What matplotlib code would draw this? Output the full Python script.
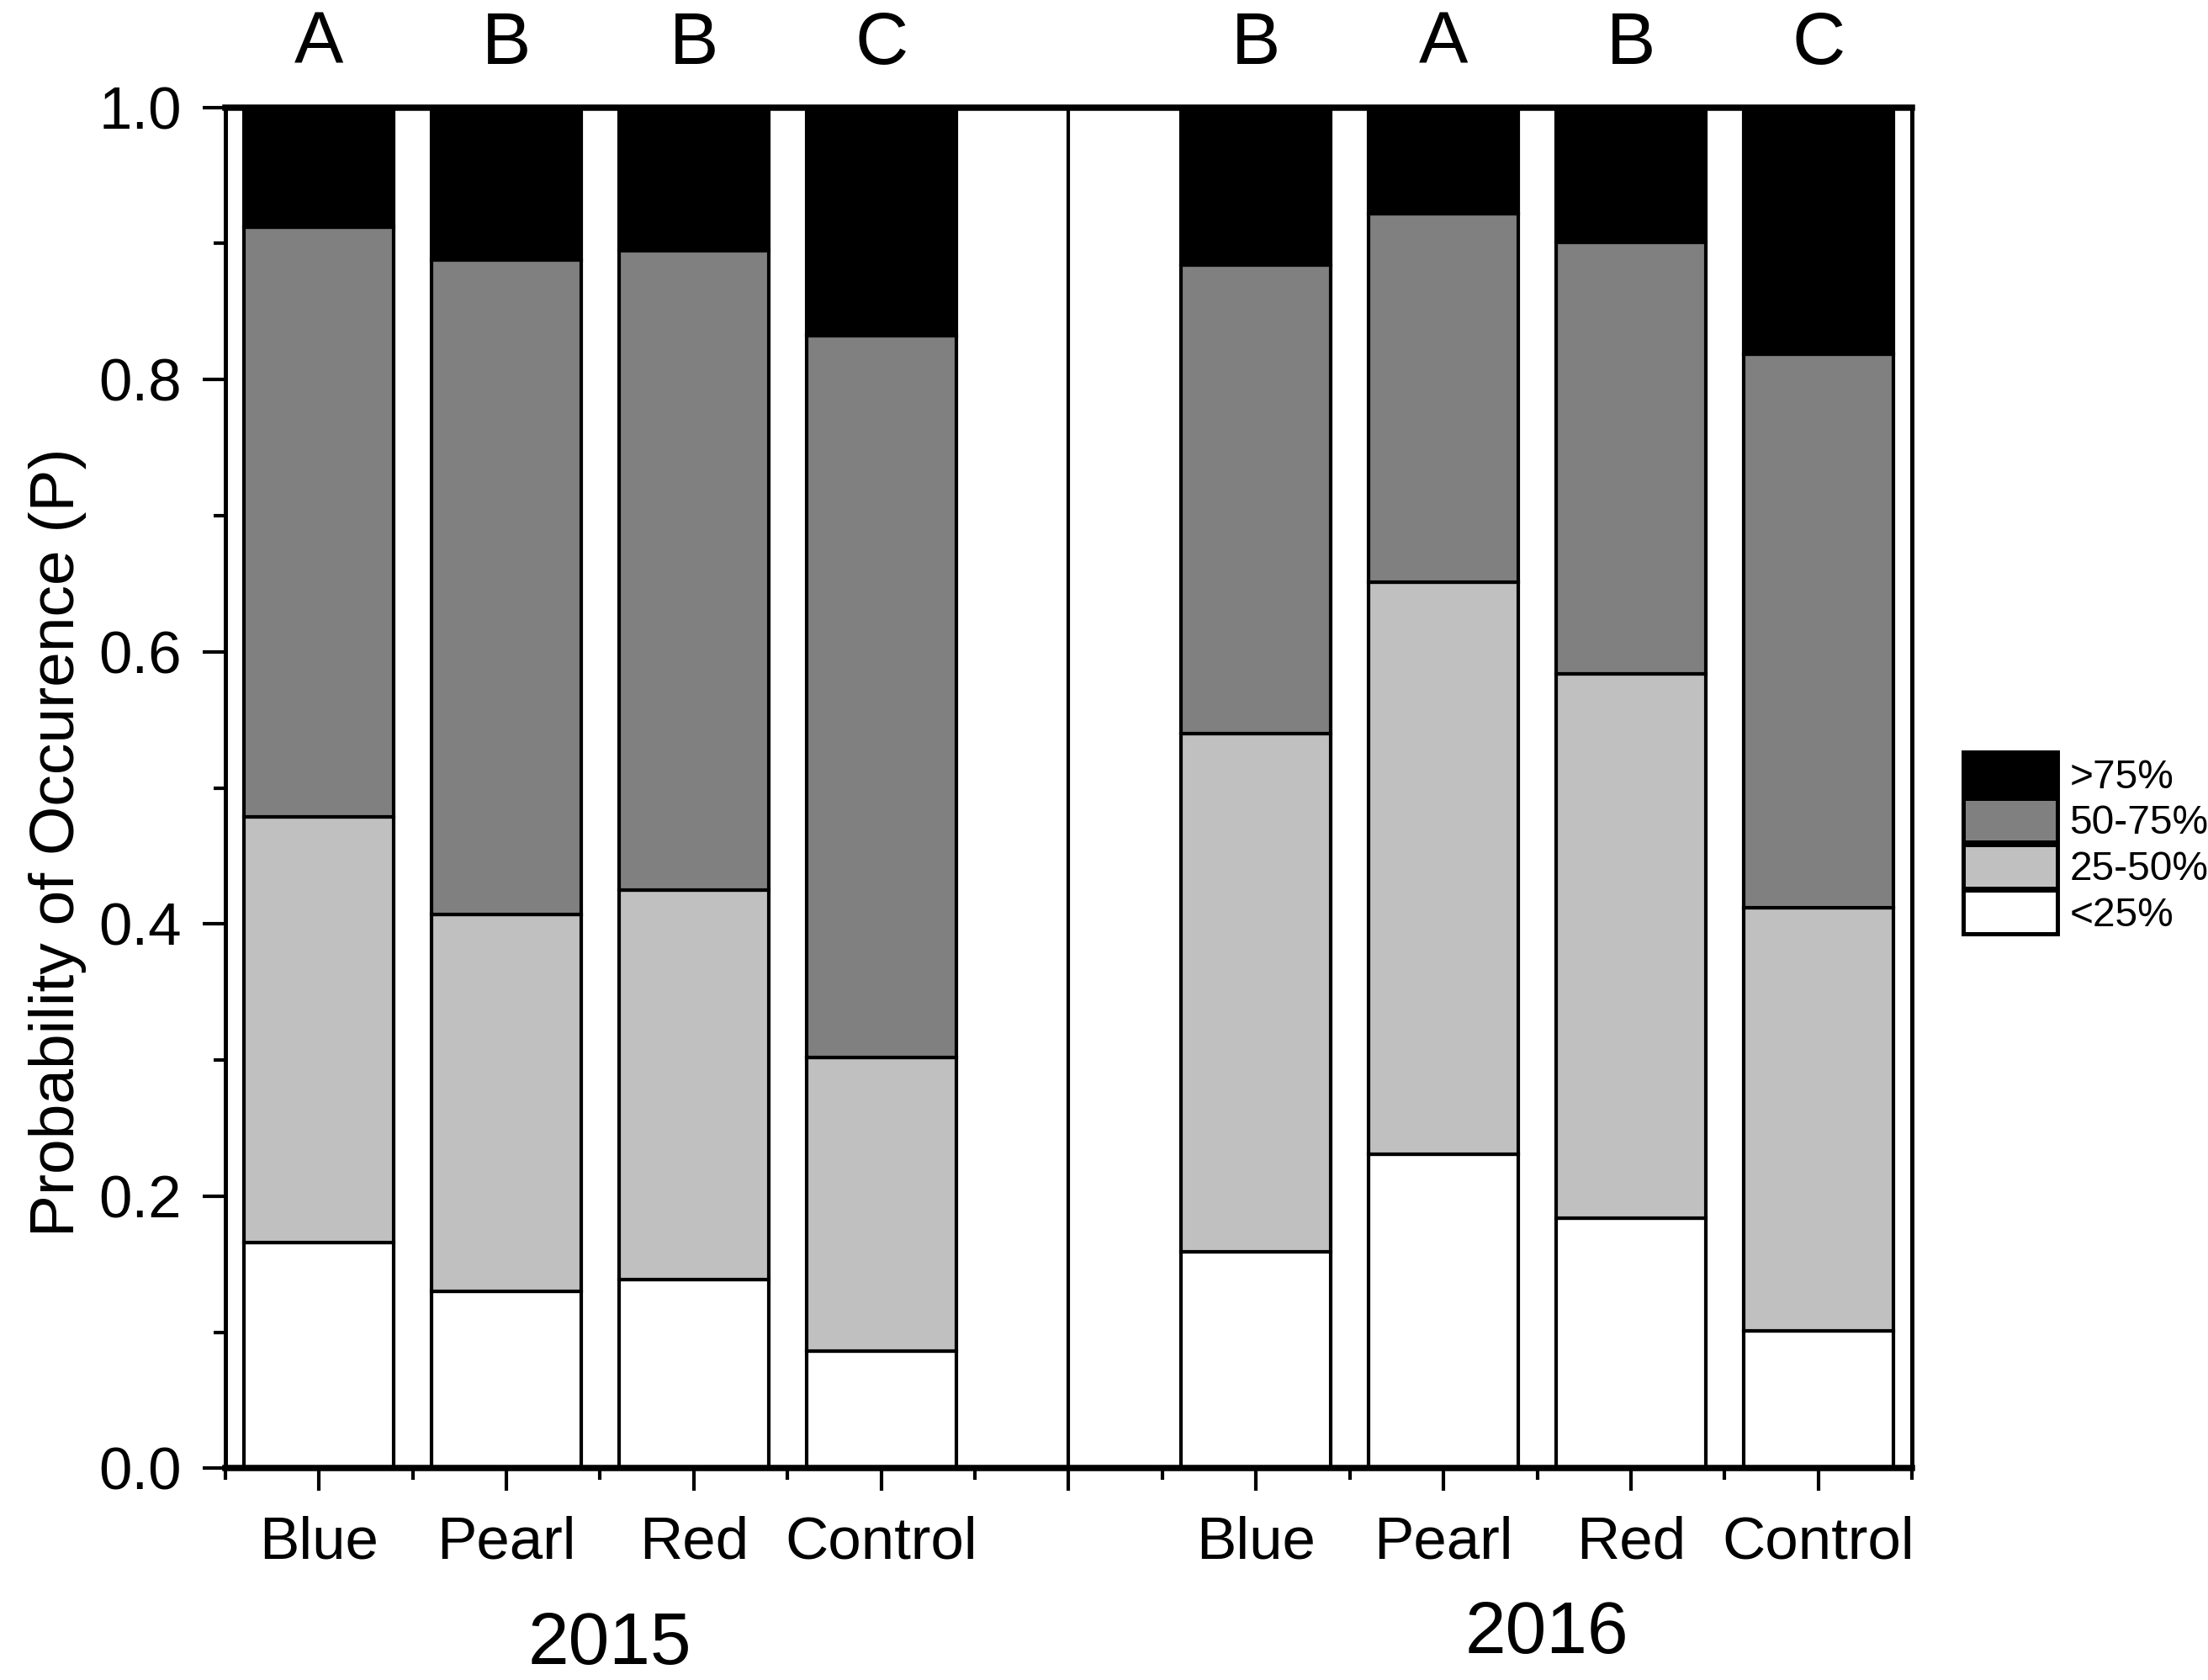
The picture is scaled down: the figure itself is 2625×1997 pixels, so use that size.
import numpy as np
import matplotlib.pyplot as plt
from matplotlib.ticker import MultipleLocator, FixedLocator
from matplotlib.patches import Patch

plt.rcParams['font.family'] = ['Liberation Sans', 'DejaVu Sans']

# data
treatments = ['Blue', 'Pearl', 'Red', 'Control']
years = ['2015', '2016']
classes = ['<25%', '25-50%', '50-75%', '>75%']
class_colors = ['white', '#c0c0c0', '#808080', 'black']

# share of each class, order: Blue, Pearl, Red, Control
lt25_2015 = [0.166, 0.130, 0.139, 0.086]
c25_50_2015 = [0.313, 0.277, 0.286, 0.216]
c50_75_2015 = [0.433, 0.481, 0.470, 0.530]
gt75_2015 = [0.088, 0.112, 0.105, 0.168]

lt25_2016 = [0.159, 0.231, 0.184, 0.101]
c25_50_2016 = [0.381, 0.420, 0.400, 0.311]
c50_75_2016 = [0.344, 0.271, 0.317, 0.407]
gt75_2016 = [0.116, 0.078, 0.099, 0.181]

letters_2015 = ['A', 'B', 'B', 'C']
letters_2016 = ['B', 'A', 'B', 'C']

# positions: 1-4 for 2015, gap at 5, 6-9 for 2016
pos = np.array([1, 2, 3, 4, 6, 7, 8, 9])
shares = [np.array(lt25_2015 + lt25_2016),
          np.array(c25_50_2015 + c25_50_2016),
          np.array(c50_75_2015 + c50_75_2016),
          np.array(gt75_2015 + gt75_2016)]
letters = letters_2015 + letters_2016

fig = plt.figure(figsize=(8.75, 6.657), dpi=300)
ax = fig.add_axes([0.102, 0.126, 0.764, 0.810])

bottom = np.zeros(len(pos))
for share, col in zip(shares, class_colors):
    ax.bar(pos, share, width=0.8, bottom=bottom, color=col,
           edgecolor='black', linewidth=1.0, zorder=2)
    bottom += share

# separator between the two years
ax.axvline(5, color='black', linewidth=1.0, zorder=1)

ax.set_xlim(0.5, 9.5)
ax.set_ylim(0, 1.0)

ax.xaxis.set_major_locator(FixedLocator(range(1, 10)))
ax.set_xticklabels(treatments + [''] + treatments)
ax.xaxis.set_minor_locator(FixedLocator(np.arange(0.5, 10, 1.0)))
ax.yaxis.set_major_locator(MultipleLocator(0.2))
ax.yaxis.set_minor_locator(MultipleLocator(0.1))
ax.yaxis.set_major_formatter(plt.FormatStrFormatter('%.1f'))

ax.tick_params(which='major', direction='out', length=6.5, width=1.0,
               labelsize=17, pad=6)
ax.tick_params(which='minor', direction='out', length=3.3, width=1.0)
ax.tick_params(axis='x', pad=7)

for side in ['top', 'bottom']:
    ax.spines[side].set_linewidth(1.8)
for side in ['left', 'right']:
    ax.spines[side].set_linewidth(1.2)

ax.set_ylabel('Probability of Occurence (P)', fontsize=18)
ax.yaxis.set_label_coords(-0.082, 0.46)

for x, t in zip(pos, letters):
    ax.text(x, 1.046, t, ha='center', va='center', fontsize=21,
            transform=ax.get_xaxis_transform())

ax.text(2.55, -0.13, years[0], ha='center', va='center', fontsize=21,
        transform=ax.get_xaxis_transform())
ax.text(7.55, -0.122, years[1], ha='center', va='center', fontsize=21,
        transform=ax.get_xaxis_transform())

handles = [Patch(facecolor=c, edgecolor='black', linewidth=1.2)
           for c in class_colors[::-1]]
fig.legend(handles, classes[::-1], loc='center left',
           bbox_to_anchor=(0.889, 0.498), frameon=False, fontsize=11.5,
           handlelength=2.35, handleheight=1.3, labelspacing=0.05,
           handletextpad=0.3, borderpad=0, borderaxespad=0)

fig.savefig('out.png', dpi=300)
